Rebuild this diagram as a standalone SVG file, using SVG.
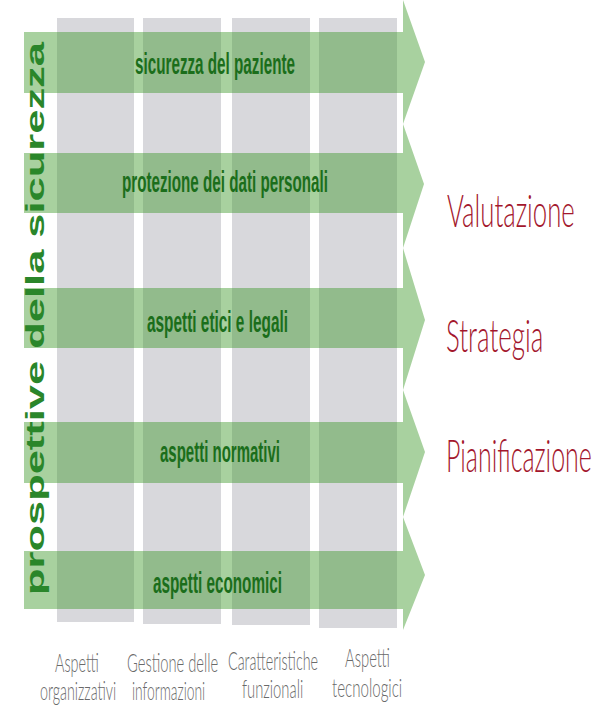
<svg xmlns="http://www.w3.org/2000/svg" width="594" height="714" viewBox="0 0 594 714">
  <style>
    .col { fill: #d8d8dc; }
    .band { fill: #3d9a2a; fill-opacity: 0.45; }
    .bandText { font-family: "Liberation Sans", Arial, sans-serif; font-weight: bold; font-size: 30px; fill: #1b6e1b; }
    .axisText { font-family: "Liberation Sans", Arial, sans-serif; font-weight: bold; font-size: 25px; fill: #2a862a; }
    .colLabel { font-family: Lato, "Liberation Sans", sans-serif; font-weight: 300; font-size: 26px; fill: #6a6a6a; }
    .phase { font-family: Lato, "Liberation Sans", sans-serif; font-weight: 300; font-size: 45px; fill: #a3172d; }
  </style>

  <!-- background -->
  <rect x="0" y="0" width="594" height="714" fill="#ffffff"/>

  <!-- gray columns -->
  <g id="columns">
    <rect id="col-org" class="col" x="57" y="18" width="77" height="604"/>
    <rect id="col-info" class="col" x="143" y="18" width="78" height="606"/>
    <rect id="col-func" class="col" x="232" y="18" width="78" height="607"/>
    <rect id="col-tech" class="col" x="319" y="18" width="78" height="610"/>
  </g>

  <!-- green arrow bands; text is drawn condensed with a horizontal scale -->
  <g id="band-1">
    <path class="band" d="M24,32 L403,32 L403,0 L425,62 L403,124 L403,93 L24,93 Z"/>
    <text class="bandText" transform="translate(135,74) scale(0.5,1)" textLength="320" lengthAdjust="spacingAndGlyphs">sicurezza del paziente</text>
  </g>
  <g id="band-2">
    <path class="band" d="M24,153 L403,153 L403,124 L424,184 L403,248 L403,213 L24,213 Z"/>
    <text class="bandText" transform="translate(122,192) scale(0.5,1)" textLength="412" lengthAdjust="spacingAndGlyphs">protezione dei dati personali</text>
  </g>
  <g id="band-3">
    <path class="band" d="M24,288 L403,288 L403,248 L425,320 L403,390 L403,348 L24,348 Z"/>
    <text class="bandText" transform="translate(147,332) scale(0.5,1)" textLength="282" lengthAdjust="spacingAndGlyphs">aspetti etici e legali</text>
  </g>
  <g id="band-4">
    <path class="band" d="M24,422 L403,422 L403,390 L425,452 L403,517 L403,483 L24,483 Z"/>
    <text class="bandText" transform="translate(160,462) scale(0.5,1)" textLength="240" lengthAdjust="spacingAndGlyphs">aspetti normativi</text>
  </g>
  <g id="band-5">
    <path class="band" d="M24,551 L403,551 L403,517 L425,575 L403,630 L403,609 L24,609 Z"/>
    <text class="bandText" transform="translate(153,593) scale(0.5,1)" textLength="258" lengthAdjust="spacingAndGlyphs">aspetti economici</text>
  </g>

  <!-- vertical axis title -->
  <g id="axis-title">
    <text class="axisText" transform="translate(44,595) rotate(-90) scale(1.4,1)" textLength="395" lengthAdjust="spacingAndGlyphs">prospettive della sicurezza</text>
  </g>

  <!-- column labels -->
  <g id="label-org">
    <text class="colLabel" transform="translate(55,672) scale(0.6,1)" textLength="73" lengthAdjust="spacingAndGlyphs">Aspetti</text>
    <text class="colLabel" transform="translate(40,700) scale(0.6,1)" textLength="127" lengthAdjust="spacingAndGlyphs">organizzativi</text>
  </g>
  <g id="label-info">
    <text class="colLabel" transform="translate(127,672) scale(0.6,1)" textLength="152" lengthAdjust="spacingAndGlyphs">Gestione delle</text>
    <text class="colLabel" transform="translate(132,700) scale(0.6,1)" textLength="122" lengthAdjust="spacingAndGlyphs">informazioni</text>
  </g>
  <g id="label-func">
    <text class="colLabel" transform="translate(228,670) scale(0.6,1)" textLength="150" lengthAdjust="spacingAndGlyphs">Caratteristiche</text>
    <text class="colLabel" transform="translate(242,698) scale(0.6,1)" textLength="102" lengthAdjust="spacingAndGlyphs">funzionali</text>
  </g>
  <g id="label-tech">
    <text class="colLabel" transform="translate(345,667) scale(0.6,1)" textLength="75" lengthAdjust="spacingAndGlyphs">Aspetti</text>
    <text class="colLabel" transform="translate(332,697) scale(0.6,1)" textLength="117" lengthAdjust="spacingAndGlyphs">tecnologici</text>
  </g>

  <!-- phases -->
  <g id="phase-valutazione">
    <text class="phase" transform="translate(447,227) scale(0.6,1)" textLength="213" lengthAdjust="spacingAndGlyphs">Valutazione</text>
  </g>
  <g id="phase-strategia">
    <text class="phase" transform="translate(446,352) scale(0.6,1)" textLength="162" lengthAdjust="spacingAndGlyphs">Strategia</text>
  </g>
  <g id="phase-pianificazione">
    <text class="phase" transform="translate(446,472) scale(0.6,1)" textLength="243" lengthAdjust="spacingAndGlyphs">Pianificazione</text>
  </g>
</svg>
